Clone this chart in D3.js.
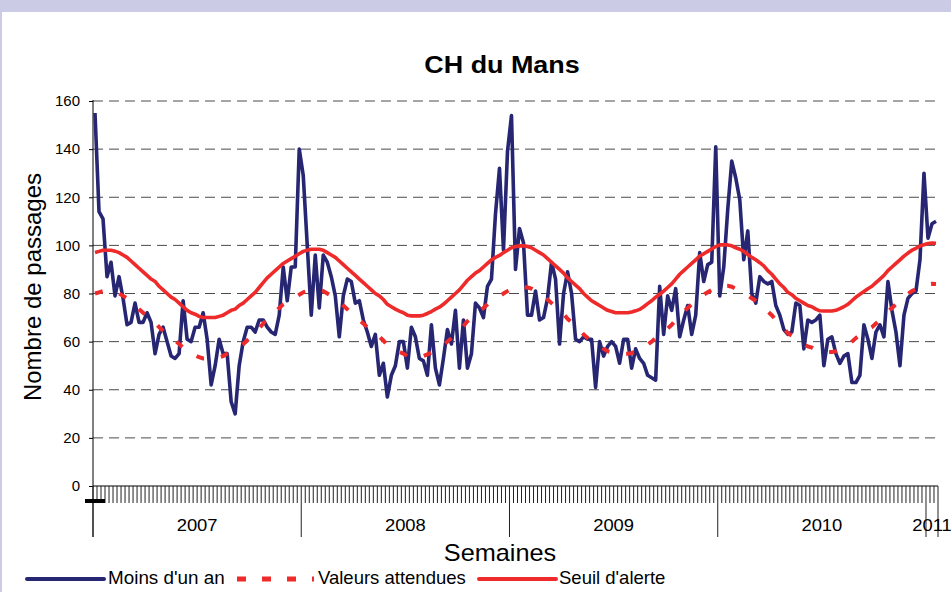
<!DOCTYPE html>
<html>
  <head>
    <title>CH du Mans</title>
    <script src="https://d3js.org/d3.v7.min.js" charset="utf-8"></script>
    <style type="text/css">
      body { margin: 0; background: #fff; }
      text { font-family: "Liberation Sans", Arial, sans-serif; fill: #000; }
    </style>
  </head>
  <body>
    <script type="text/javascript">

    // Categories: one entry per week, grouped by year
    var years = ["2007", "2008", "2009", "2010", "2011"];
    var weeksPerYear = [52, 52, 52, 52, 3];

    var yTicks = [0, 20, 40, 60, 80, 100, 120, 140, 160];

    // Moins d'un an (weekly counts)
    var moinsUnAn = [
      155,114,111,87,93,79,87,78,67,68,
      76,68,68,72,68,55,63,66,60,54,
      53,55,77,61,60,66,66,72,61,42,
      50,61,55,55,35,30,50,60,66,66,
      64,69,69,66,64,63,71,91,77,91,
      91,140,129,100,71,96,74,96,93,87,
      79,62,79,86,85,76,77,69,64,58,
      63,46,51,37,46,50,60,60,49,66,
      62,53,52,46,67,49,42,53,65,59,
      73,49,69,49,55,76,74,70,83,86,
      113,132,98,139,154,90,107,101,71,71,
      81,69,70,78,93,86,59,80,89,80,
      61,60,62,61,61,41,60,54,58,60,
      58,51,61,61,49,57,53,51,46,45,
      44,83,63,79,73,82,62,69,75,63,
      71,97,85,92,93,141,79,91,115,135,
      128,119,94,106,80,76,87,85,84,85,
      75,71,65,63,64,76,75,57,69,68,
      69,71,50,61,62,55,51,54,55,43,
      43,46,67,61,53,64,67,62,85,73,
      64,50,71,78,80,81,94,130,103,109,
      110
    ];

    // Valeurs attendues
    var valeursAttendues = [
      80,80.5,81,81,81,80.6,80,79,78,76.5,
      75,73.5,72,70.5,69,68,66,64.5,63,61.5,
      60.5,59,57.5,56,55,54.4,53.5,53,53,53,
      53,53.5,54,55,56,56.5,58,59,60.5,62,
      63.5,65.5,67.5,69.5,71,72.5,74,75.5,76.5,77.5,
      78.5,79.5,80.5,81,81.4,81.4,81.4,81,80,79,
      78,76.5,75,73.5,72,70.5,69,67.5,66,64.5,
      63,62,60.5,58.5,57.5,56.5,55.7,55,54,53.7,
      53.7,53.7,54,54.7,55.5,56.5,57.3,58.5,60,61.5,
      63,64.5,66.5,68.5,70,71.5,72.5,74,75.5,77,
      78,78.8,80,81,82,82.5,82.8,82.8,82.5,82,
      81,80,79,77.5,76,74.5,73,71.5,69.5,68,
      66.5,65,63,61.5,60,59,58,57,56,55.5,
      55,55,55,55,55.3,55.8,56.4,57.5,58.8,60,
      61.5,62.7,64,65.5,67,69,71,72.5,74,75.5,
      77,78.6,79.5,80.5,81.5,82.5,83.2,83.2,83.2,82.8,
      82,81.4,80.5,79.2,78,77,75.8,74.5,72.5,71,
      69,67,65.5,63.5,62.5,61,60,59,58,57.5,
      56.5,55.8,55.7,55.7,55.7,56,56.7,57.5,58.5,60,
      61.5,62.7,63.8,65,66,67.5,69,70.5,72.5,74,
      75.5,77,78.5,79.8,81,81.8,82.8,83.3,83.8,84,
      83.9
    ];

    // Seuil d'alerte
    var seuilAlerte = [
      97,97.5,98,98,98,97.6,97,96,95,93.5,
      92,90.5,89,87.5,86,85,83,81.5,80,78.5,
      77.5,76,74.5,73,72,71.4,70.5,70,70,70,
      70,70.5,71,72,73,73.5,75,76,77.5,79,
      80.5,82.5,84.5,86.5,88,89.5,91,92.5,93.5,94.5,
      95.5,96.5,97.5,98,98.4,98.4,98.4,98,97,96,
      95,93.5,92,90.5,89,87.5,86,84.5,83,81.5,
      80,79,77.5,75.5,74.5,73.5,72.7,72,71,70.7,
      70.7,70.7,71,71.7,72.5,73.5,74.3,75.5,77,78.5,
      80,81.5,83.5,85.5,87,88.5,89.5,91,92.5,94,
      95,95.8,97,98,99,99.5,99.8,99.8,99.5,99,
      98,97,96,94.5,93,91.5,90,88.5,86.5,85,
      83.5,82,80,78.5,77,76,75,74,73,72.5,
      72,72,72,72,72.3,72.8,73.4,74.5,75.8,77,
      78.5,79.7,81,82.5,84,86,88,89.5,91,92.5,
      94,95.6,96.5,97.5,98.5,99.5,100.2,100.2,100.2,99.8,
      99,98.4,97.5,96.2,95,94,92.8,91.5,89.5,88,
      86,84,82.5,80.5,79.5,78,77,76,75,74.5,
      73.5,72.8,72.7,72.7,72.7,73,73.7,74.5,75.5,77,
      78.5,79.7,80.8,82,83,84.5,86,87.5,89.5,91,
      92.5,94,95.5,96.8,98,98.8,99.8,100.3,100.8,101,
      100.9
    ];

    // Build week categories
    var weeks = [];
    years.forEach(function(yr, k) {
      for (var w = 1; w <= weeksPerYear[k]; w++) weeks.push(yr + "-S" + w);
    });

    var width = 951, height = 592;
    var plotL = 93, plotR = 938, plotT = 101, plotB = 486;

    var svg = d3.select("body").append("svg")
        .attr("width", width)
        .attr("height", height);

    // frame (lavender band on top and left edge)
    svg.append("rect").attr("x", 0).attr("y", 0).attr("width", width).attr("height", 12).attr("fill", "#cccbe6");
    svg.append("rect").attr("x", 0).attr("y", 12).attr("width", 2).attr("height", height - 12).attr("fill", "#cccbe6");

    var x = d3.scaleBand().domain(weeks).range([plotL, plotR]).padding(0);
    var y = d3.scaleLinear().domain([0, 160]).range([plotB, plotT]);
    var cx = function(d, i) { return x(weeks[i]) + x.bandwidth() / 2; };

    // horizontal dashed gridlines
    svg.append("g").selectAll("line")
        .data(yTicks.filter(function(v) { return v > 0; }))
        .enter().append("line")
        .attr("x1", plotL).attr("x2", plotR)
        .attr("y1", function(d) { return y(d); })
        .attr("y2", function(d) { return y(d); })
        .attr("stroke", "#4a4a4a")
        .attr("stroke-width", 1)
        .attr("stroke-dasharray", "10,6");

    // y axis
    var yAxis = svg.append("g")
        .attr("transform", "translate(" + plotL + ",0)")
        .call(d3.axisLeft(y).tickValues(yTicks).tickSize(4).tickPadding(9));
    yAxis.select(".domain").remove();
    yAxis.selectAll(".tick line").attr("stroke", "#000");
    yAxis.selectAll("text").style("font-size", "15px").attr("fill", "#000");
    svg.append("line")
        .attr("x1", plotL).attr("x2", plotL)
        .attr("y1", plotT - 1).attr("y2", 537)
        .attr("stroke", "#000");

    // x axis line
    svg.append("line")
        .attr("x1", plotL).attr("x2", plotR)
        .attr("y1", plotB).attr("y2", plotB)
        .attr("stroke", "#000");

    // week ticks at each band boundary
    var bounds = d3.range(weeks.length + 1);
    var yearStarts = [0];
    weeksPerYear.forEach(function(n, k) { yearStarts.push(yearStarts[k] + n); });
    svg.append("g").selectAll("line")
        .data(bounds)
        .enter().append("line")
        .attr("x1", function(k) { return plotL + k * x.step(); })
        .attr("x2", function(k) { return plotL + k * x.step(); })
        .attr("y1", plotB)
        .attr("y2", function(k) { return yearStarts.indexOf(k) >= 0 ? 537 : 503; })
        .attr("stroke", "#222")
        .attr("stroke-width", 1);

    // odd black marker under the first ticks
    svg.append("rect").attr("x", 85).attr("y", 499).attr("width", 20).attr("height", 4).attr("fill", "#000");

    // text helper, stretched horizontally like the original rendering
    function stretched(g, px, py, txt, size, sx, weight, anchor) {
      return g.append("text")
          .attr("transform", "translate(" + px + "," + py + ") scale(" + sx + ",1)")
          .attr("text-anchor", anchor || "middle")
          .style("font-size", size + "px")
          .style("font-weight", weight || "normal")
          .text(txt);
    }

    // year labels
    years.forEach(function(yr, k) {
      var x0 = plotL + yearStarts[k] * x.step();
      var x1 = plotL + yearStarts[k + 1] * x.step();
      stretched(svg, (x0 + x1) / 2, 531, yr, 16, 1.15);
    });

    // lines
    var line = function(vals) {
      return d3.line()
          .x(function(d, i) { return cx(d, i); })
          .y(function(d) { return y(d); })(vals);
    };

    svg.append("path")
        .attr("d", line(moinsUnAn))
        .attr("fill", "none")
        .attr("stroke", "#262673")
        .attr("stroke-width", 3.6)
        .attr("stroke-linejoin", "round");

    svg.append("path")
        .attr("d", line(valeursAttendues))
        .attr("fill", "none")
        .attr("stroke", "#ee2a2a")
        .attr("stroke-width", 4)
        .attr("stroke-dasharray", "8,17");

    svg.append("path")
        .attr("d", line(seuilAlerte))
        .attr("fill", "none")
        .attr("stroke", "#ee2a2a")
        .attr("stroke-width", 3.6)
        .attr("stroke-linejoin", "round");

    // titles
    stretched(svg, 502, 73, "CH du Mans", 23, 1.17, "bold");
    stretched(svg, 500, 561, "Semaines", 23, 1.1);
    svg.append("text")
        .attr("transform", "translate(41,287) rotate(-90)")
        .attr("text-anchor", "middle")
        .style("font-size", "24px")
        .text("Nombre de passages");

    // legend
    var lg = svg.append("g");
    lg.append("line").attr("x1", 27).attr("x2", 104).attr("y1", 579).attr("y2", 579)
        .attr("stroke", "#262673").attr("stroke-width", 4).attr("stroke-linecap", "round");
    stretched(lg, 108, 584, "Moins d'un an", 18.5, 1.02, "normal", "start");
    lg.append("line").attr("x1", 237).attr("x2", 314).attr("y1", 579).attr("y2", 579)
        .attr("stroke", "#ee2a2a").attr("stroke-width", 5).attr("stroke-dasharray", "9,16");
    stretched(lg, 318, 584, "Valeurs attendues", 18.5, 1.0, "normal", "start");
    lg.append("line").attr("x1", 479).attr("x2", 556).attr("y1", 579).attr("y2", 579)
        .attr("stroke", "#ee2a2a").attr("stroke-width", 4).attr("stroke-linecap", "round");
    stretched(lg, 559, 584, "Seuil d'alerte", 18.5, 1.0, "normal", "start");

    </script>
  </body>
</html>
